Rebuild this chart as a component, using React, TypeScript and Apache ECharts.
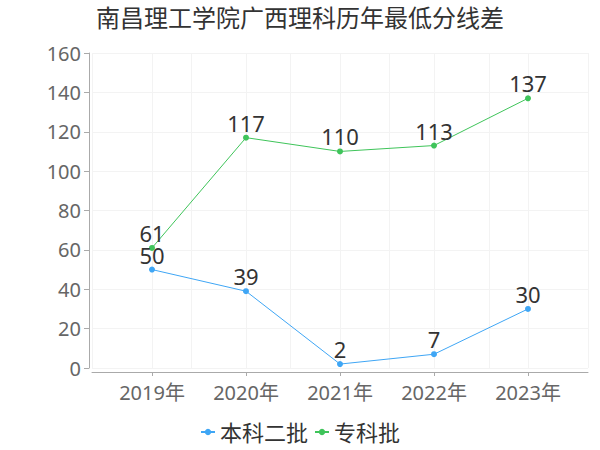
import React, { useEffect, useRef } from "react";
import * as echarts from "echarts";

const title = "南昌理工学院广西理科历年最低分线差";
const categories = ["2019年", "2020年", "2021年", "2022年", "2023年"];
const seriesNames = ["本科二批", "专科批"];
const benke2 = [50, 39, 2, 7, 30];
const zhuanke = [61, 117, 110, 113, 137];
const yTicks = [0, 20, 40, 60, 80, 100, 120, 140, 160];

export default function App() {
  const ref = useRef<HTMLDivElement>(null);
  useEffect(() => {
    if (!ref.current) return;
    document.body.style.margin = "0";
    const chart = echarts.init(ref.current, undefined, { renderer: "svg" });
    const font = "'Noto Sans', 'Noto Sans CJK SC', sans-serif";
    const axisColor = "#aaa";
    const splitColor = "#f3f3f3";
    const yMin = yTicks[0];
    const yMax = yTicks[yTicks.length - 1];
    const labelStyle = {
      show: true,
      position: "top",
      distance: 1,
      fontSize: 22,
      color: "#333",
      fontFamily: font,
    };
    chart.setOption({
      animation: false,
      color: ["#3fa6f5", "#3fc45a"],
      title: {
        text: title,
        left: "center",
        top: 0,
        textStyle: { fontSize: 24, fontWeight: "normal", color: "#333", fontFamily: font },
      },
      legend: {
        bottom: 2,
        left: "center",
        itemWidth: 14,
        itemHeight: 8,
        itemGap: 6,
        textStyle: { fontSize: 22, color: "#333", fontFamily: font },
        data: seriesNames,
      },
      grid: [
        { left: 92, right: 12, top: 53, bottom: 82 },
        { left: 152, right: 72, top: 53, bottom: 82 },
      ],
      xAxis: [
        {
          type: "value",
          gridIndex: 0,
          min: 0,
          max: 1,
          offset: 4,
          axisLine: { show: true, onZero: false, lineStyle: { color: axisColor } },
          axisTick: { show: false },
          axisLabel: { show: false },
          splitLine: { show: true, lineStyle: { color: splitColor } },
        },
        {
          type: "category",
          gridIndex: 1,
          data: categories,
          boundaryGap: false,
          offset: 4,
          axisLine: { show: false, onZero: false },
          axisTick: { show: true, length: 4, lineStyle: { color: axisColor } },
          axisLabel: { fontSize: 20, color: "#666", fontFamily: font, margin: 10 },
          splitLine: { show: true, lineStyle: { color: splitColor } },
        },
      ],
      yAxis: [
        {
          type: "value",
          gridIndex: 0,
          min: yMin,
          max: yMax,
          interval: 20,
          offset: 3,
          axisLine: { show: true, onZero: false, lineStyle: { color: axisColor } },
          axisTick: { show: true, lineStyle: { color: axisColor } },
          axisLabel: { fontSize: 20, color: "#666", fontFamily: font },
          splitLine: { show: true, lineStyle: { color: splitColor } },
        },
        {
          type: "value",
          gridIndex: 1,
          min: yMin,
          max: yMax,
          interval: 20,
          show: false,
          splitLine: { show: false },
        },
      ],
      series: [
        {
          name: seriesNames[0],
          type: "line",
          xAxisIndex: 1,
          yAxisIndex: 1,
          data: benke2,
          symbol: "circle",
          symbolSize: 6,
          lineStyle: { width: 1 },
          label: labelStyle,
        },
        {
          name: seriesNames[1],
          type: "line",
          xAxisIndex: 1,
          yAxisIndex: 1,
          data: zhuanke,
          symbol: "circle",
          symbolSize: 6,
          lineStyle: { width: 1 },
          label: labelStyle,
        },
      ],
    });
    return () => chart.dispose();
  }, []);
  return <div ref={ref} style={{ width: 600, height: 450 }} />;
}
